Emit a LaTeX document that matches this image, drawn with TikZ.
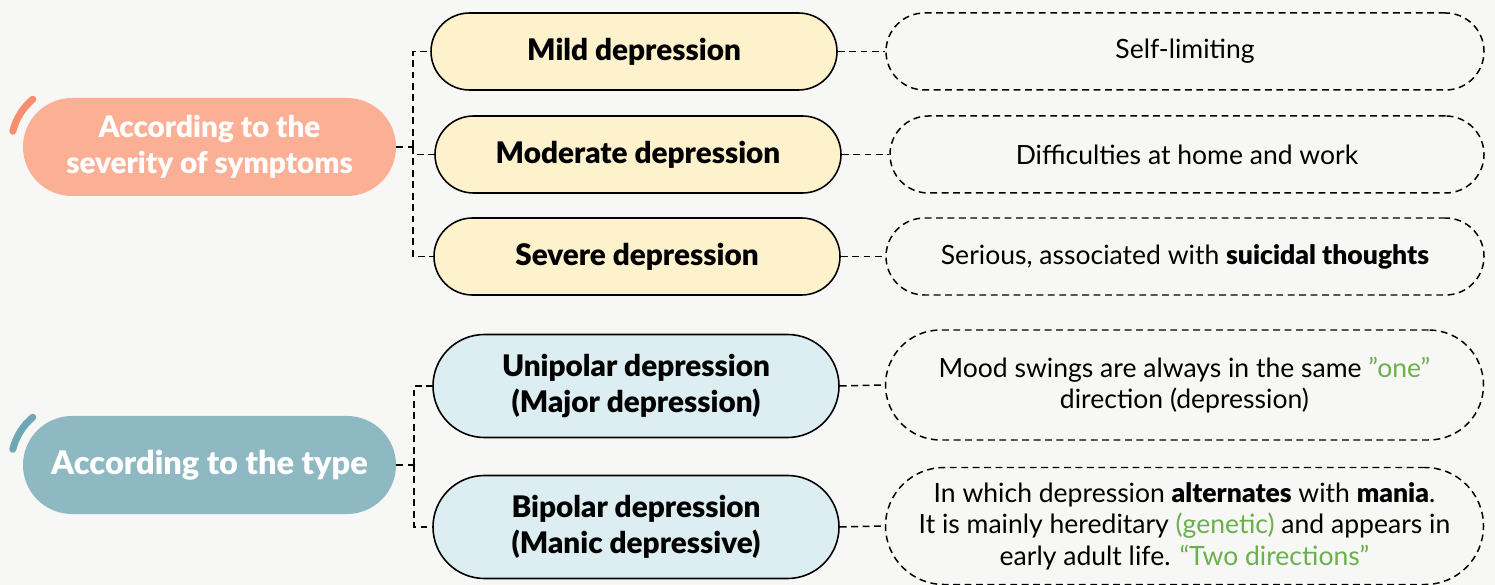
\documentclass[tikz,border=0pt]{standalone}
\usepackage{fontspec}
\setmainfont{Lato}[BoldFont={Lato Black}]
\usetikzlibrary{positioning}
\definecolor{PageGray}{HTML}{F7F7F5}
\definecolor{Salmon}{HTML}{FBB096}
\definecolor{SalmonDark}{HTML}{F78F6E}
\definecolor{Teal}{HTML}{8EB8C2}
\definecolor{TealDark}{HTML}{6EA8B5}
\definecolor{Cream}{HTML}{FEF2CD}
\definecolor{IceBlue}{HTML}{DCEEF2}
\definecolor{LeafGreen}{HTML}{6AB04C}
\tikzset{
	catbox/.style={rectangle,fill=#1,text=white,align=center,minimum width=7.46cm,minimum height=1.96cm,rounded corners=0.98cm,font=\fontsize{18.5}{20.5}\selectfont\bfseries},
	kindbox/.style={rectangle,draw,line width=0.9pt,align=center,minimum width=8.12cm,minimum height=#1,rounded corners=0.5*#1,font=\fontsize{16.9}{20.5}\selectfont\bfseries},
	notebox/.style={rectangle,draw=black,line width=0.85pt,dash pattern=on 3.9pt off 2.6pt,align=center,minimum width=11.96cm,minimum height=#1,rounded corners=0.5*#1,font=\fontsize{15.1}{18}\selectfont},
	link/.style={draw=black,line width=0.85pt,dash pattern=on 3.9pt off 2.6pt},
	swoosh/.style={line width=4pt,line cap=round}
}

\begin{document}
\begin{tikzpicture}
		\fill[PageGray] (0,0) rectangle (29.9,-11.7);
		\useasboundingbox (0,0) rectangle (29.9,-11.7);
		% categories
		\node[catbox=Salmon,font=\fontsize{16.9}{20.5}\selectfont\bfseries] (sev) at (4.19,-2.94) {According to the\\severity of symptoms};
		\node[catbox=Teal] (typ) at (4.19,-9.30) {According to the type};
		\draw[swoosh,SalmonDark] ([shift={(130:1.22)}]1.44,-2.92) arc(130:166:1.22);
		\draw[swoosh,TealDark] ([shift={(130:1.22)}]1.44,-9.28) arc(130:166:1.22);
		% kinds
		\node[kindbox=1.54cm,fill=Cream] (mild) at (12.68,-1.03) {Mild depression};
		\node[kindbox=1.54cm,fill=Cream] (mod) at (12.76,-3.09) {Moderate depression};
		\node[kindbox=1.54cm,fill=Cream] (sevd) at (12.74,-5.13) {Severe depression};
		\node[kindbox=2.06cm,fill=IceBlue] (uni) at (12.72,-7.72) {Unipolar depression\\(Major depression)};
		\node[kindbox=2.06cm,fill=IceBlue] (bip) at (12.72,-10.54) {Bipolar depression\\(Manic depressive)};
		% notes
		\node[notebox=1.54cm] (n1) at (23.70,-1.03) {Self-limiting};
		\node[notebox=1.54cm,minimum width=11.88cm] (n2) at (23.74,-3.09) {Difficulties at home and work};
		\node[notebox=1.54cm] (n3) at (23.70,-5.13) {Serious, associated with \textbf{suicidal thoughts}};
		\node[notebox=2.2cm] (n4) at (23.69,-7.70) {Mood swings are always in the same \textcolor{LeafGreen}{”one”}\\direction (depression)};
		\node[notebox=2.34cm] (n5) at (23.69,-10.52) {In which depression \textbf{alternates} with \textbf{mania}.\\It is mainly hereditary \textcolor{LeafGreen}{(genetic)} and appears in\\early adult life. \textcolor{LeafGreen}{“Two directions”}};
		% connectors
		\coordinate (j1) at (8.26,-2.94);
		\coordinate (j2) at (8.28,-9.30);
		\draw[link] (sev.east) -- (j1);
		\draw[link] (j1) |- (mild.west);
		\draw[link] (j1) |- (mod.west);
		\draw[link] (j1) |- (sevd.west);
		\draw[link] (typ.east) -- (j2);
		\draw[link] (j2) |- (uni.west);
		\draw[link] (j2) |- (bip.west);
		\draw[link] (mild.east) -- (n1.west);
		\draw[link] (mod.east) -- (n2.west);
		\draw[link] (sevd.east) -- (n3.west);
		\draw[link] (uni.east) -- (n4.west);
		\draw[link] (bip.east) -- (n5.west);
	\end{tikzpicture}
\end{document}
